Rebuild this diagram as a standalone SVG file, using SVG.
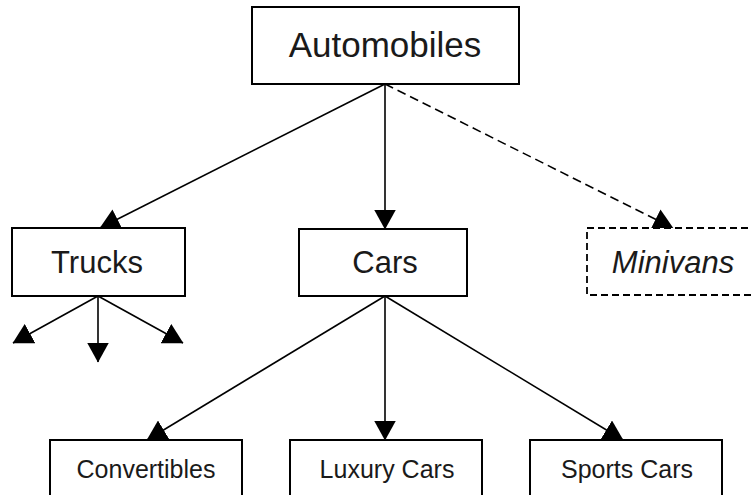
<svg xmlns="http://www.w3.org/2000/svg" width="751" height="495" viewBox="0 0 751 495">
<style>
.box{fill:#fff;stroke:#000;stroke-width:2}
.dbox{fill:#fff;stroke:#000;stroke-width:1.8;stroke-dasharray:7,4}
.ln{stroke:#000;stroke-width:1.6;fill:none;marker-end:url(#ah)}
.dln{stroke:#000;stroke-width:1.6;fill:none;stroke-dasharray:9,5;marker-end:url(#ah)}
text{font-family:"Liberation Sans",Arial,Helvetica,sans-serif;fill:#1a1a1a;text-anchor:middle}
.t1{font-size:35px}
.t2{font-size:31px}
.t3{font-size:25px}
</style>
<defs>
<marker id="ah" markerUnits="userSpaceOnUse" markerWidth="20" markerHeight="22" viewBox="0 0 20 22" refX="19.5" refY="11" orient="auto">
<path d="M0,0 L20,11 L0,22 z" fill="#000"/>
</marker>
</defs>
<g id="connectors">
<line class="ln" x1="385" y1="84" x2="100" y2="228"/>
<line class="ln" x1="385" y1="84" x2="385" y2="229"/>
<line class="dln" x1="385" y1="84" x2="673" y2="228"/>
<line class="ln" x1="98" y1="296" x2="13" y2="343"/>
<line class="ln" x1="98" y1="296" x2="98" y2="362"/>
<line class="ln" x1="98" y1="296" x2="183" y2="343"/>
<line class="ln" x1="385" y1="296" x2="147" y2="440"/>
<line class="ln" x1="385" y1="296" x2="385" y2="440"/>
<line class="ln" x1="385" y1="296" x2="623" y2="440"/>
</g>
<g id="automobiles">
<rect class="box" x="252" y="7" width="267" height="77"/>
<text class="t1" x="385" y="57">Automobiles</text>
</g>
<g id="trucks">
<rect class="box" x="12" y="228" width="173" height="68"/>
<text class="t2" x="97" y="273">Trucks</text>
</g>
<g id="cars">
<rect class="box" x="299" y="229" width="168" height="67"/>
<text class="t2" x="385" y="273">Cars</text>
</g>
<g id="minivans">
<rect class="dbox" x="587" y="228" width="175" height="67"/>
<text class="t2" x="673" y="273" font-style="italic">Minivans</text>
</g>
<g id="convertibles">
<rect class="box" x="50" y="440" width="192" height="70"/>
<text class="t3" x="146" y="478">Convertibles</text>
</g>
<g id="luxury">
<rect class="box" x="290" y="440" width="192" height="70"/>
<text class="t3" x="387" y="478">Luxury Cars</text>
</g>
<g id="sports">
<rect class="box" x="530" y="440" width="192" height="70"/>
<text class="t3" x="627" y="478">Sports Cars</text>
</g>
</svg>
